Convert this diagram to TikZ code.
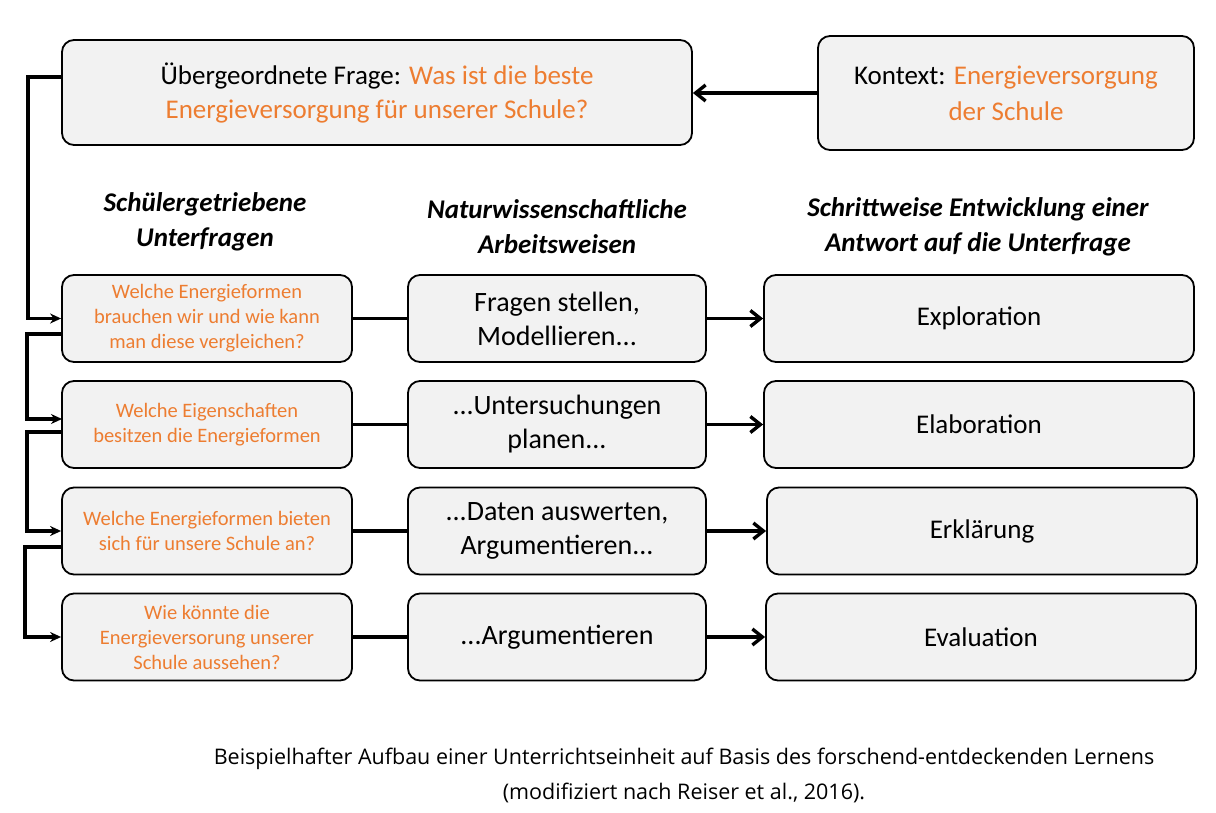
\documentclass[tikz,border=0pt]{standalone}
\usepackage{fontspec}
\setmainfont{Carlito}
\newfontfamily\capfont{Open Sans}
\usetikzlibrary{arrows.meta}
\definecolor{orng}{RGB}{237,125,49}
\definecolor{boxfill}{RGB}{242,242,242}
\begin{document}
\begin{tikzpicture}[x=1pt,y=-1pt,
  bx/.style={draw=black,line width=1.8pt,fill=boxfill,rounded corners=12pt,inner sep=0pt,align=center},
  hd/.style={font=\fontsize{27}{35}\selectfont\bfseries\itshape,align=center},
  con/.style={line width=3.4pt},
  arr/.style={line width=3.4pt,-{Straight Barb[length=10pt,width=16pt,line width=3.4pt]}},
  sarr/.style={line width=3.2pt,-{Stealth[length=11pt,width=10pt]}}]
\useasboundingbox (0,0) rectangle (1216,813);
\fill[white] (0,0) rectangle (1216,813);
\node[bx,minimum width=630pt,minimum height=105pt,font=\fontsize{27}{34}\selectfont] (top) at (377,92.5) {Übergeordnete Frage: \textcolor{orng}{Was ist die beste}\\\textcolor{orng}{Energieversorgung für unserer Schule?}};
\node[bx,minimum width=376pt,minimum height=114pt,font=\fontsize{27}{36}\selectfont] (ctx) at (1006,93) {Kontext: \textcolor{orng}{Energieversorgung}\\\textcolor{orng}{der Schule}};
\draw[arr] (ctx.west) -- (top.east|-ctx.west);
\node[hd] (h1) at (205,222) {Schülergetriebene\\Unterfragen};
\node[hd] (h2) at (557,227) {Naturwissenschaftliche\\Arbeitsweisen};
\node[hd] (h3) at (978,227) {Schrittweise Entwicklung einer\\Antwort auf die Unterfrage};
\foreach \i/\y/\l/\m/\r/\rx in {
 1/318.5/{Welche Energieformen\\brauchen wir und wie kann\\man diese vergleichen?}/{Fragen stellen,\\Modellieren...}/Exploration/979,
 2/424.5/{Welche Eigenschaften\\besitzen die Energieformen}/{...Untersuchungen\\planen...}/Elaboration/979,
 3/531/{Welche Energieformen bieten\\sich für unsere Schule an?}/{...Daten auswerten,\\Argumentieren...}/Erklärung/982,
 4/637/{Wie könnte die\\Energieversorung unserer\\Schule aussehen?}/{...Argumentieren}/Evaluation/981}{
 \node[bx,minimum width=290pt,minimum height=87pt,font=\fontsize{20.5}{25}\selectfont\color{orng}] (l\i) at (207,\y) {\l};
 \node[bx,minimum width=298pt,minimum height=87pt,font=\fontsize{28}{34}\selectfont] (m\i) at (557,\y) {\m};
 \node[bx,minimum width=430pt,minimum height=87pt,font=\fontsize{27}{30}\selectfont] (r\i) at (\rx,\y) {\r};
 \draw[con] (l\i.east) -- (m\i.west);
 \draw[arr] (m\i.east) -- (r\i.west);
}
\coordinate (t0) at (62,77);
\draw[sarr] (t0) -- (28,77) -- (28,318.5) -- (l1.west);
\draw[sarr] (62,334) -- (27,334) -- (27,419) -- (62,419);
\draw[sarr] (62,432) -- (27,432) -- (27,531) -- (l3.west);
\draw[sarr] (62,547) -- (25,547) -- (25,637) -- (l4.west);
\node[font=\capfont\fontsize{21.5}{35}\selectfont,align=center] (cap) at (684,775) {Beispielhafter Aufbau einer Unterrichtseinheit auf Basis des forschend-entdeckenden Lernens\\(modifiziert nach Reiser et al., 2016).};
\end{tikzpicture}
\end{document}
